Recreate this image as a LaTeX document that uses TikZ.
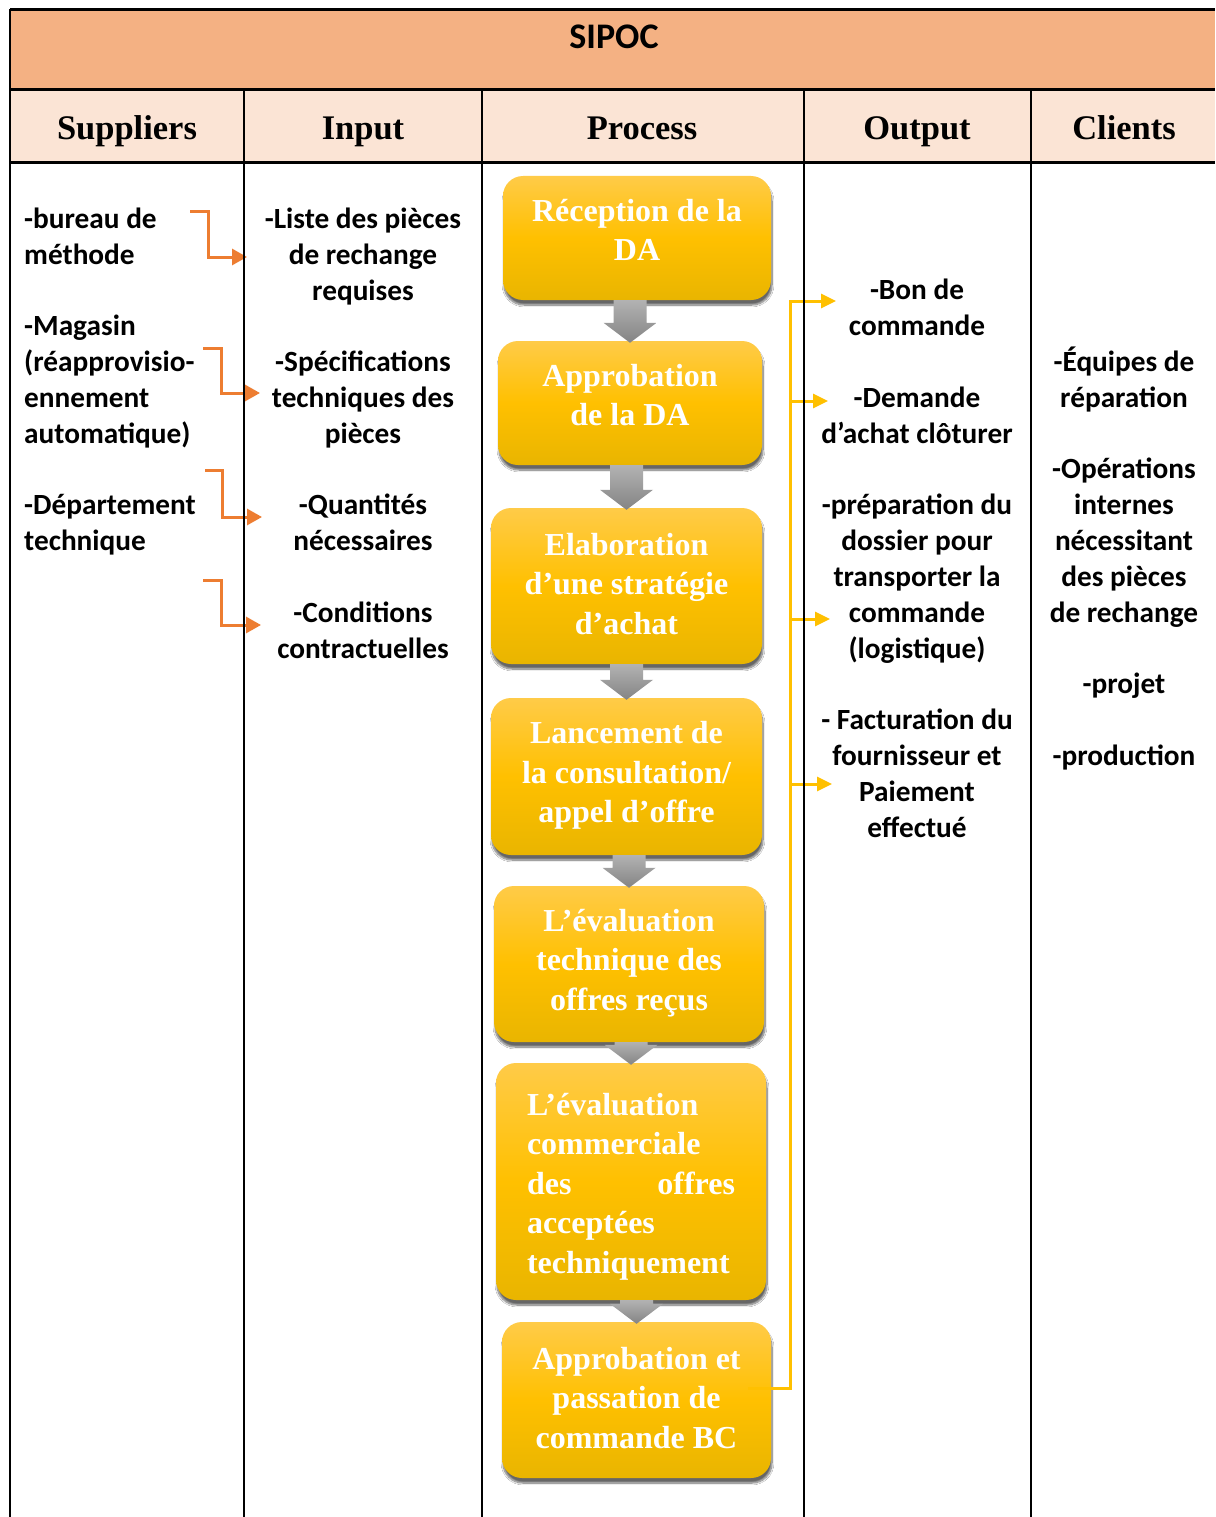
\documentclass[tikz,border=0pt]{standalone}
\usepackage{fontspec}
\setmainfont{Liberation Serif}
\newfontfamily\calfont{Carlito}
\usetikzlibrary{calc,arrows.meta,shadows.blur}

\definecolor{titlebg}{RGB}{244,177,131}
\definecolor{headbg}{RGB}{251,228,213}
\definecolor{orangeline}{RGB}{237,125,49}
\definecolor{goldline}{RGB}{255,192,0}
\definecolor{boxtop}{RGB}{255,203,72}
\definecolor{boxmid}{RGB}{255,192,0}
\definecolor{boxbot}{RGB}{233,181,0}
\definecolor{arrtop}{RGB}{178,178,178}
\definecolor{arrbot}{RGB}{132,132,132}

% grey block arrow from the bottom of one step to the top of the next
\newcommand\flowarrow[2]{%
  \path[top color=arrtop,bottom color=arrbot]
    let \p1=(#1.south), \p2=(#2.north) in
    (\x2-16.5pt,\y1) -- (\x2+16.5pt,\y1) -- (\x2+16.5pt,\y2+18pt)
    -- (\x2+26.5pt,\y2+18pt) -- (\x2,\y2-2pt) -- (\x2-26.5pt,\y2+18pt)
    -- (\x2-16.5pt,\y2+18pt) -- cycle;}

\begin{document}
\begin{tikzpicture}[x=1pt,y=-1pt,
  body/.style={font=\calfont\bfseries\fontsize{29.3}{36}\selectfont,
    inner sep=0pt, align=center, yshift=-6pt,
    execute at begin node=\strut, execute at end node=\strut},
  bodyl/.style={body, align=left, anchor=west},
  head/.style={font=\bfseries\fontsize{34.5}{40}\selectfont, inner sep=0pt,
    anchor=base},
  pbox/.style={rounded corners=20pt, top color=boxtop, bottom color=boxbot,
    middle color=boxmid,
    blur shadow={shadow xshift=1pt, shadow yshift=-5pt,
      shadow blur steps=10, shadow opacity=60}},
  ptext/.style={font=\bfseries\fontsize{32}{39.5}\selectfont, text=white,
    align=center, inner sep=0pt},
  oarrow/.style={draw=orangeline, line width=3pt,
    -{Triangle[length=15pt,width=16pt]}},
  yarrow/.style={draw=goldline, line width=3pt,
    -{Triangle[length=15pt,width=14pt]}},
  rule/.style={line width=2pt},
  thickrule/.style={line width=3pt},
]
\useasboundingbox (0,0) rectangle (1215,1517);
\fill[white] (0,0) rectangle (1215,1517);

% title band and header row
\fill[titlebg] (10,10) rectangle (1215,90);
\fill[headbg] (10,90) rectangle (1215,163);
\node[font=\calfont\bfseries\fontsize{36}{40}\selectfont, inner sep=0pt,
  anchor=base] (title) at (614,48.5) {SIPOC};
\node[head] (hS) at (127,140) {Suppliers};
\node[head] (hI) at (363,140) {Input};
\node[head] (hP) at (642,140) {Process};
\node[head] (hO) at (917,140) {Output};
\node[head] (hC) at (1124,140) {Clients};

% suppliers
\node[bodyl] (s1) at (24,236) {-bureau de\\méthode};
\node[bodyl] (s2) at (24,379) {-Magasin\\(réapprovisio-\\ennement\\automatique)};
\node[bodyl] (s3) at (24,522) {-Département\\technique};

% inputs
\node[body] (i1) at (363,253.5) {-Liste des pièces\\de rechange\\requises};
\node[body] (i2) at (363,397) {-Spécifications\\techniques des\\pièces};
\node[body] (i3) at (363,522) {-Quantités\\nécessaires};
\node[body] (i4) at (363,630) {-Conditions\\contractuelles};

% outputs
\node[body] (o1) at (917,307) {-Bon de\\commande};
\node[body] (o2) at (917,415) {-Demande\\d’achat clôturer};
\node[body] (o3) at (917,576) {-préparation du\\dossier pour\\transporter la\\commande\\(logistique)};
\node[body] (o4) at (917,773) {- Facturation du\\fournisseur et\\Paiement\\effectué};

% clients
\node[body] (c1) at (1124,377) {-Équipes de\\réparation};
\node[body] (c2) at (1124,540) {-Opérations\\internes\\nécessitant\\des pièces\\de rechange};
\node[body] (c3) at (1124,680) {-projet};
\node[body] (c4) at (1124,752) {-production};

% process steps
\node[pbox, minimum width=268pt, minimum height=124pt] (p1) at (637,238) {};
\node[pbox, minimum width=264pt, minimum height=124pt] (p2) at (630,403) {};
\node[pbox, minimum width=271pt, minimum height=156pt] (p3) at (626.5,586) {};
\node[pbox, minimum width=271pt, minimum height=157pt] (p4) at (626.5,776.5) {};
\node[pbox, minimum width=270pt, minimum height=156pt] (p5) at (629,964) {};
\node[pbox, minimum width=270pt, minimum height=237pt] (p6) at (631,1181.5) {};
\node[pbox, minimum width=269pt, minimum height=156pt] (p7) at (636.5,1400) {};

\node[ptext] (t1) at ($(p1.center)+(0,-8)$) {Réception de la\\DA};
\node[ptext] (t2) at ($(p2.center)+(0,-8)$) {Approbation\\de la DA};
\node[ptext] (t3) at ($(p3.center)+(0,-2)$) {Elaboration\\d’une stratégie\\d’achat};
\node[ptext] (t4) at ($(p4.center)+(0,-1)$) {Lancement de\\la consultation/\\appel d’offre};
\node[ptext] (t5) at ($(p5.center)+(0,-1)$) {L’évaluation\\technique des\\offres reçus};
\node[ptext, align=left] (t6) at ($(p6.center)+(0,5)$)
  {L’évaluation\\commerciale\\\hbox to 208pt{des\hfill offres}\\acceptées\\techniquement};
\node[ptext] (t7) at ($(p7.center)+(0,-2)$) {Approbation et\\passation de\\commande BC};

\flowarrow{p1}{p2}
\flowarrow{p2}{p3}
\flowarrow{p3}{p4}
\flowarrow{p4}{p5}
\flowarrow{p5}{p6}
\flowarrow{p6}{p7}

% supplier -> input links
\coordinate (a1s) at (190,211); \coordinate (a1k) at (208,257); \coordinate (a1e) at (247,257);
\coordinate (a2s) at (203,348); \coordinate (a2k) at (221,393); \coordinate (a2e) at (260,393);
\coordinate (a3s) at (205,470); \coordinate (a3k) at (222,517); \coordinate (a3e) at (262,517);
\coordinate (a4s) at (203,580); \coordinate (a4k) at (221,625); \coordinate (a4e) at (261,625);
\draw[oarrow] (a1s) -| (a1k) -- (a1e);
\draw[oarrow] (a2s) -| (a2k) -- (a2e);
\draw[oarrow] (a3s) -| (a3k) -- (a3e);
\draw[oarrow] (a4s) -| (a4k) -- (a4e);

% last step -> outputs
\coordinate (ys) at (748,1388);
\coordinate (yb) at (790,1388);
\coordinate (yt) at (790,301);
\coordinate (ye1) at (836,301);
\coordinate (yj2) at (790,401); \coordinate (ye2) at (828,401);
\coordinate (yj3) at (790,619); \coordinate (ye3) at (830,619);
\coordinate (yj4) at (790,784); \coordinate (ye4) at (832,784);
\draw[yarrow] (ys) -- (yb) -- (yt) -- (ye1);
\draw[yarrow] (yj2) -- (ye2);
\draw[yarrow] (yj3) -- (ye3);
\draw[yarrow] (yj4) -- (ye4);

% table rules
\draw[thickrule] (10,10) -- (1215,10);
\draw[thickrule] (10,90) -- (1215,90);
\draw[thickrule] (10,163) -- (1215,163);
\draw[rule] (10,9) -- (10,1517);
\foreach \cx in {244,482,804,1031} \draw[rule] (\cx,90) -- (\cx,1517);
\end{tikzpicture}
\end{document}
